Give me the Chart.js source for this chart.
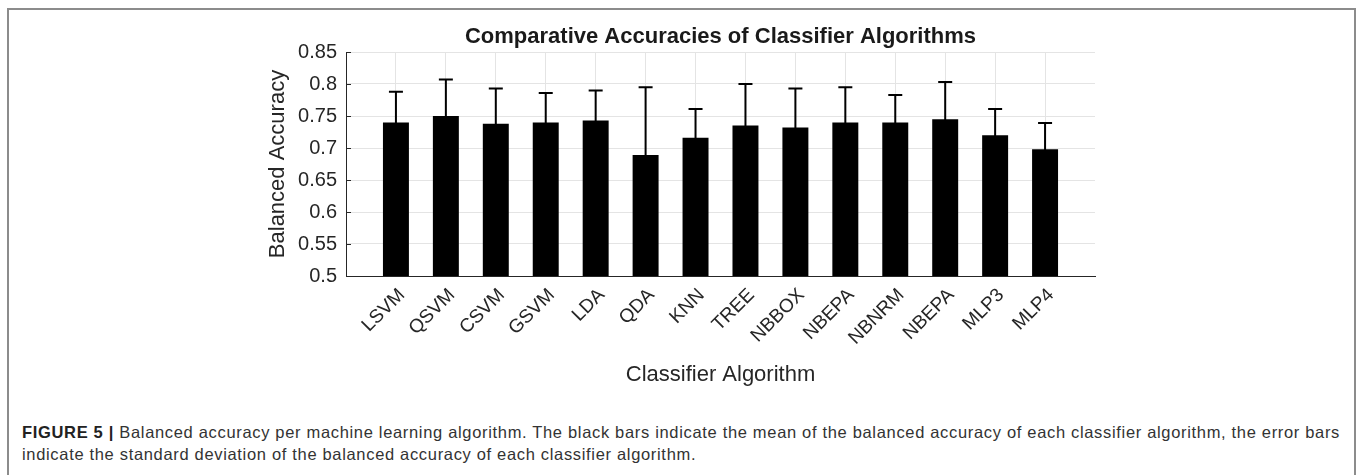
<!DOCTYPE html>
<html>
<head>
<meta charset="utf-8">
<script src="https://cdn.jsdelivr.net/npm/chart.js@4.4.0/dist/chart.umd.min.js"></script>
<style>
  html, body { margin: 0; padding: 0; background: #fff; }
  body { width: 1357px; height: 475px; position: relative; overflow: hidden; }
  #frame { position: absolute; left: 7px; top: 8px; width: 1345px; height: 520px;
           border: 2px solid #8c8c8c; border-bottom: none; }
  #wrap { position: absolute; left: 0; top: 0; width: 1357px; height: 400px; }
  #caption { position: absolute; left: 22px; top: 421px; font-family: "Liberation Sans", Arial, sans-serif;
             font-size: 16.5px; line-height: 22px; color: #333; white-space: nowrap; }
  #caption b { color: #222; }
</style>
</head>
<body>
<div id="frame"></div>
<div id="wrap"><canvas id="chart" width="1357" height="400"></canvas></div>
<div id="caption"><span id="cap1"><b>FIGURE 5 |</b> Balanced accuracy per machine learning algorithm. The black bars indicate the mean of the balanced accuracy of each classifier algorithm, the error bars</span><br><span id="cap2">indicate the standard deviation of the balanced accuracy of each classifier algorithm.</span></div>
<script>
// Classifiers, their mean balanced accuracy and its standard deviation
const categories = ['LSVM', 'QSVM', 'CSVM', 'GSVM', 'LDA', 'QDA', 'KNN', 'TREE', 'NBBOX', 'NBEPA', 'NBNRM', 'NBEPA', 'MLP3', 'MLP4'];
const meanAccuracy = [0.740, 0.750, 0.738, 0.740, 0.743, 0.689, 0.716, 0.735, 0.732, 0.740, 0.740, 0.745, 0.720, 0.698];
const stdAccuracy  = [0.048, 0.057, 0.055, 0.046, 0.047, 0.106, 0.045, 0.065, 0.061, 0.055, 0.043, 0.058, 0.041, 0.041];
const yTickValues = [0.5, 0.55, 0.6, 0.65, 0.7, 0.75, 0.8, 0.85];
const yTickLabels = ['0.5', '0.55', '0.6', '0.65', '0.7', '0.75', '0.8', '0.85'];

const FONT = '"Liberation Sans", Arial, Helvetica, sans-serif';
const AXIS_COLOR = '#262626';
const GRID_COLOR = '#e4e4e4';
Chart.defaults.font.family = FONT;

// categories sit at positions 1..N on an axis running from 0 to N+1
const points = categories.map((c, i) => ({ x: i + 1, y: meanAccuracy[i] }));

// standard-deviation whiskers drawn on top of the bars
const errorBars = {
  id: 'errorBars',
  afterDatasetsDraw(chart) {
    const { ctx, chartArea, scales: { x, y } } = chart;
    ctx.save();
    ctx.beginPath();
    ctx.rect(chartArea.left, chartArea.top - 2, chartArea.width, chartArea.height + 2);
    ctx.clip();
    ctx.strokeStyle = '#000';
    ctx.lineWidth = 2;
    const cap = 7;
    points.forEach((p, i) => {
      const px = x.getPixelForValue(p.x);
      const hi = y.getPixelForValue(meanAccuracy[i] + stdAccuracy[i]);
      const lo = y.getPixelForValue(meanAccuracy[i] - stdAccuracy[i]);
      ctx.beginPath();
      ctx.moveTo(px, lo); ctx.lineTo(px, hi);
      ctx.moveTo(px - cap, hi); ctx.lineTo(px + cap, hi);
      ctx.moveTo(px - cap, lo); ctx.lineTo(px + cap, lo);
      ctx.stroke();
    });
    ctx.restore();
  }
};

// short inward tick marks on the value axis
const innerTicks = {
  id: 'innerTicks',
  afterDraw(chart) {
    const { ctx, chartArea, scales: { y } } = chart;
    ctx.save();
    ctx.strokeStyle = AXIS_COLOR;
    ctx.lineWidth = 1;
    yTickValues.forEach(v => {
      const py = Math.round(y.getPixelForValue(v)) + 0.5;
      ctx.beginPath();
      ctx.moveTo(chartArea.left, py);
      ctx.lineTo(chartArea.left + 5, py);
      ctx.stroke();
    });
    ctx.restore();
  }
};

new Chart(document.getElementById('chart'), {
  type: 'bar',
  data: {
    datasets: [{
      label: 'Balanced Accuracy',
      data: points,
      backgroundColor: '#000',
      borderColor: '#000',
      borderWidth: 0,
      barPercentage: 0.52,
      categoryPercentage: 1.0
    }]
  },
  options: {
    responsive: false,
    animation: false,
    devicePixelRatio: 1,
    layout: { padding: { left: 255, right: 262, top: 0, bottom: 0 } },
    plugins: {
      legend: { display: false },
      tooltip: { enabled: false },
      title: {
        display: true,
        fullSize: false,
        text: 'Comparative Accuracies of Classifier Algorithms',
        color: '#1a1a1a',
        font: { size: 22, weight: 'bold' },
        padding: { top: 23.5, bottom: 2.1 }
      }
    },
    scales: {
      x: {
        type: 'linear',
        offset: false,
        min: 0,
        max: categories.length + 1,
        afterBuildTicks: s => { s.ticks = categories.map((c, i) => ({ value: i + 1 })); },
        afterFit: s => { s.height = 124; },
        ticks: {
          autoSkip: false,
          minRotation: 45,
          maxRotation: 45,
          padding: 8,
          labelOffset: 6,
          color: AXIS_COLOR,
          font: { size: 19 },
          callback: (v) => categories[Math.round(v) - 1]
        },
        grid: { color: GRID_COLOR, drawTicks: false, offset: false },
        border: { color: AXIS_COLOR, width: 1 },
        title: {
          display: true,
          text: 'Classifier Algorithm',
          color: AXIS_COLOR,
          font: { size: 22 },
          padding: { top: 0, bottom: 11.6 }
        }
      },
      y: {
        min: 0.5,
        max: 0.85,
        afterBuildTicks: s => { s.ticks = yTickValues.map(v => ({ value: v })); },
        afterFit: s => { s.width = 91; },
        ticks: {
          padding: 9,
          color: AXIS_COLOR,
          font: { size: 20 },
          callback: (v, i) => yTickLabels[i]
        },
        grid: { color: GRID_COLOR, drawTicks: false },
        border: { color: AXIS_COLOR, width: 1 },
        title: {
          display: true,
          text: 'Balanced Accuracy',
          color: AXIS_COLOR,
          font: { size: 22 },
          padding: { top: 10, bottom: 0 }
        }
      }
    }
  },
  plugins: [errorBars, innerTicks]
});

// spread the caption so its first line fills the frame width
(function fitCaption() {
  const line1 = document.getElementById('cap1');
  const natural = line1.getBoundingClientRect().width;
  const spacing = (1318 - natural) / line1.textContent.length;
  document.getElementById('caption').style.letterSpacing = spacing.toFixed(3) + 'px';
})();
</script>
</body>
</html>
